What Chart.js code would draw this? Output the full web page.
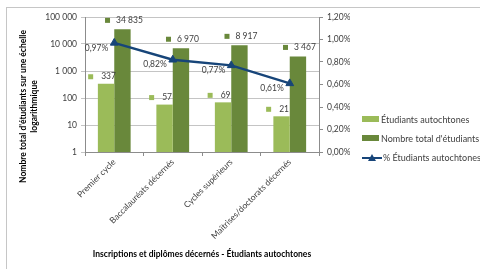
<!DOCTYPE html>
<html>
<head>
<meta charset="utf-8">
<script src="https://cdn.jsdelivr.net/npm/chart.js@4.4.1/dist/chart.umd.min.js"></script>
<style>
  html, body { margin: 0; padding: 0; background: #fff; }
  #wrap { position: relative; width: 480px; height: 269px; overflow: hidden; }
  #frame { position: absolute; left: 6px; top: 7px; width: 480px; height: 270px;
           border-left: 1px solid #c6c6c6; border-top: 1px solid #c6c6c6; pointer-events: none; }
  #legend { position: absolute; left: 362px; top: 113px; margin: 0; padding: 0; list-style: none;
            font: 9px Lato, sans-serif; color: #404040; }
  #legend li { display: flex; align-items: center; height: 12px; margin-bottom: 7px; white-space: nowrap; }
  #legend .key { width: 17px; height: 6px; margin-right: 2px; }
  #legend canvas { margin-right: 1px; }
</style>
</head>
<body>
<div id="wrap">
  <canvas id="chart" width="480" height="269"></canvas>
  <ul id="legend"></ul>
  <div id="frame"></div>
</div>
<script>
const categories = ["Premier cycle", "Baccalauréats décernés", "Cycles supérieurs", "Maîtrises/doctorats décernés"];
const autochtones = [337, 57, 69, 21];
const totalEtudiants = [34835, 6970, 8917, 3467];
const pctAutochtones = [0.97, 0.82, 0.77, 0.61];
const logTicks = [1, 10, 100, 1000, 10000, 100000];
const pctTicks = [0, 0.2, 0.4, 0.6, 0.8, 1.0, 1.2];
const yTitle = ["Nombre total d'étudiants sur une échelle", "logarithmique"];
const xTitle = "Inscriptions et diplômes décernés - Étudiants autochtones";

const FONT = "Lato";
const LIGHT = "#9bbb59";
const DARK = "#69883b";
const BLUE = "#174579";
const TEXT = "#404040";
const AXIS = "#8c8c8c";

function fmtNum(v) {
  return String(v).replace(/\B(?=(\d{3})+(?!\d))/g, " ");
}
function fmtPct(v) {
  return v.toFixed(2).replace(".", ",") + "%";
}

// line + triangle key for the legend
function lineKey() {
  const cv = document.createElement("canvas");
  cv.width = 20; cv.height = 9;
  const c = cv.getContext("2d");
  c.strokeStyle = BLUE; c.lineWidth = 2;
  c.beginPath(); c.moveTo(0, 5); c.lineTo(20, 5); c.stroke();
  c.fillStyle = BLUE;
  c.beginPath(); c.moveTo(10, 1); c.lineTo(14, 8); c.lineTo(6, 8); c.closePath(); c.fill();
  return cv;
}

// HTML legend built from the chart's own legend items
const htmlLegend = {
  id: "htmlLegend",
  afterUpdate(chart) {
    const ul = document.getElementById("legend");
    ul.innerHTML = "";
    const items = chart.options.plugins.legend.labels.generateLabels(chart);
    items.sort((a, b) => a.datasetIndex - b.datasetIndex);
    items.forEach(it => {
      const li = document.createElement("li");
      const ds = chart.data.datasets[it.datasetIndex];
      let key;
      if (ds.type === "line") {
        key = lineKey();
      } else {
        key = document.createElement("span");
        key.className = "key";
        key.style.background = it.fillStyle;
      }
      li.appendChild(key);
      const txt = document.createElement("span");
      txt.textContent = it.text;
      li.appendChild(txt);
      ul.appendChild(li);
    });
  }
};

// value labels like Excel's "legend key" labels
const valueLabels = {
  id: "valueLabels",
  afterDatasetsDraw(chart) {
    const ctx = chart.ctx;
    ctx.save();
    ctx.font = "8.5px " + FONT;
    ctx.textBaseline = "middle";
    chart.data.datasets.forEach((ds, i) => {
      const meta = chart.getDatasetMeta(i);
      meta.data.forEach((el, j) => {
        const v = ds.data[j];
        if (ds.type === "line") {
          ctx.fillStyle = TEXT;
          ctx.textAlign = "right";
          ctx.fillText(fmtPct(v), el.x - 6, el.y + 5);
          return;
        }
        const txt = fmtNum(v);
        const tw = ctx.measureText(txt).width;
        const gap = i === 0 ? 8 : 6;
        const lift = i === 0 ? 7 : 9;
        const shift = i === 0 ? -4 : 1.5;
        const w = 5 + gap + tw;
        const x0 = el.x + shift - w / 2;
        const y = el.y - lift;
        ctx.fillStyle = ds.backgroundColor;
        ctx.fillRect(x0, y - 2.5, 5, 5);
        ctx.fillStyle = TEXT;
        ctx.textAlign = "left";
        ctx.fillText(txt, x0 + 5 + gap, y);
      });
    });
    ctx.restore();
  }
};

// left axis title, placed like the original (a bit below the plot centre)
const leftTitle = {
  id: "leftTitle",
  afterDraw(chart) {
    const ctx = chart.ctx;
    const cy = (chart.chartArea.top + chart.chartArea.bottom) / 2 + 22;
    ctx.save();
    ctx.font = "bold 8.5px " + FONT;
    ctx.fillStyle = "#000";
    ctx.textAlign = "center";
    ctx.textBaseline = "middle";
    yTitle.forEach((line, k) => {
      ctx.save();
      ctx.translate(23 + k * 11, cy);
      ctx.rotate(-Math.PI / 2);
      ctx.fillText(line, 0, 0);
      ctx.restore();
    });
    ctx.restore();
  }
};

new Chart(document.getElementById("chart"), {
  data: {
    labels: categories,
    datasets: [
      {
        type: "bar",
        label: "Étudiants autochtones",
        data: autochtones,
        backgroundColor: LIGHT,
        yAxisID: "y",
        order: 1,
        barPercentage: 1,
        categoryPercentage: 0.56
      },
      {
        type: "bar",
        label: "Nombre total d'étudiants",
        data: totalEtudiants,
        backgroundColor: DARK,
        yAxisID: "y",
        order: 1,
        barPercentage: 1,
        categoryPercentage: 0.56
      },
      {
        type: "line",
        label: "% Étudiants autochtones",
        data: pctAutochtones,
        borderColor: BLUE,
        backgroundColor: BLUE,
        borderWidth: 2.5,
        pointStyle: "triangle",
        pointRadius: 4.5,
        pointBorderWidth: 1,
        yAxisID: "y1",
        order: 0
      }
    ]
  },
  options: {
    responsive: false,
    animation: false,
    layout: { padding: { top: 17, left: 0, right: 130, bottom: 6 } },
    plugins: {
      tooltip: { enabled: false },
      legend: { display: false }
    },
    scales: {
      x: {
        grid: { offset: true, drawOnChartArea: false, drawTicks: true, tickLength: 4, color: AXIS },
        border: { color: AXIS },
        ticks: { font: { family: FONT, size: 8.5 }, color: TEXT, maxRotation: 45, minRotation: 45, padding: 1 },
        title: { display: true, text: xTitle, font: { family: FONT, size: 8.5, weight: "bold" }, color: "#000" },
        afterFit(scale) { scale.height = 111; }
      },
      y: {
        type: "logarithmic",
        position: "left",
        min: 1,
        max: 100000,
        afterBuildTicks(scale) { scale.ticks = logTicks.map(v => ({ value: v })); },
        ticks: { font: { family: FONT, size: 8.5 }, color: TEXT, padding: 4, callback: v => fmtNum(v) },
        grid: { color: "#c4c4c4", tickLength: 4 },
        border: { color: AXIS },
        afterFit(scale) { scale.width = 85; }
      },
      y1: {
        position: "right",
        min: 0,
        max: 1.2,
        afterBuildTicks(scale) { scale.ticks = pctTicks.map(v => ({ value: v })); },
        ticks: { font: { family: FONT, size: 8.5 }, color: TEXT, padding: 4, callback: v => fmtPct(v) },
        grid: { drawOnChartArea: false, tickLength: 4, color: AXIS },
        border: { color: AXIS },
        afterFit(scale) { scale.width = 31; }
      }
    }
  },
  plugins: [htmlLegend, valueLabels, leftTitle]
});
</script>
</body>
</html>
